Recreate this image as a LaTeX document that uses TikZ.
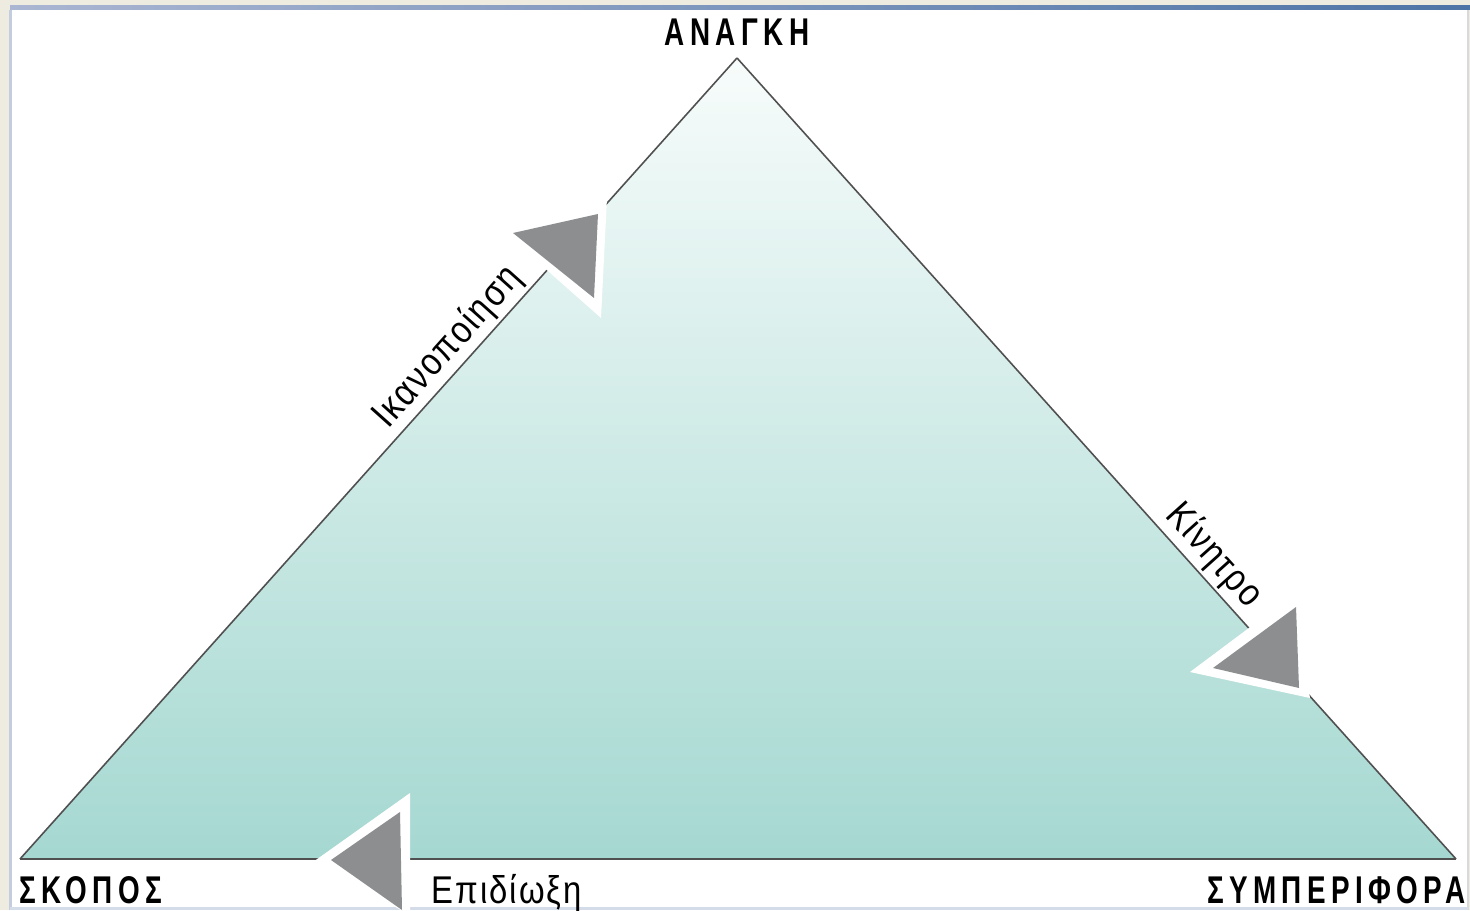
\documentclass[tikz,border=0pt]{standalone}
\usepackage{fontspec}
\setmainfont{Liberation Sans}
\newfontfamily\capsfont[FakeStretch=0.72,LetterSpace=14]{Liberation Sans}
\newfontfamily\edgefont[FakeStretch=0.85,LetterSpace=5]{Liberation Sans}

\definecolor{pagebg}{HTML}{EEEBE0}
\definecolor{framebl}{HTML}{4D74A6}
\definecolor{framelt}{HTML}{AAB6D2}
\definecolor{tritop}{HTML}{F7FCFB}
\definecolor{tribot}{HTML}{A5D8D1}
\definecolor{arrgray}{HTML}{8D8E90}
\definecolor{edgegray}{HTML}{505050}

\begin{document}
\begin{tikzpicture}
  [x=0.02cm,y=0.02cm,
   vlabel/.style={font=\capsfont\bfseries\fontsize{22}{24}\selectfont,inner sep=0pt},
   elabel/.style={font=\edgefont\fontsize{22}{24}\selectfont,inner sep=2pt},
   edge/.style={draw=edgegray,line width=0.9pt},
   arrhead/.style={fill=arrgray},
   arrhalo/.style={fill=white}]
  \useasboundingbox (0,0) rectangle (1470,910);

  % page and frame
  \fill[pagebg] (0,0) rectangle (1470,910);
  \fill[white] (10,0) rectangle (1468,900);
  \shade[left color=framelt,right color=framebl] (10,900) rectangle (1470,904);
  \fill[framelt!70!white] (9,0) rectangle (12,900);
  \fill[black!15] (1467,0) rectangle (1469,900);
  \fill[framelt!50!white] (10,0) rectangle (1468,3);

  \coordinate (ang) at (737,852);
  \coordinate (skp) at (20,51);
  \coordinate (sym) at (1456,51);

  \shade[top color=tritop,bottom color=tribot] (skp) -- (ang) -- (sym) -- cycle;
  \foreach \from/\to in {skp/ang, ang/sym, sym/skp}
    \draw[edge] (\from) -- (\to);

  % arrowheads
  \fill[arrhalo] (505,677) -- (607,712) -- (601,592) -- cycle;
  \fill[arrhead] (513,677) -- (598,696) -- (594,612) -- cycle;
  \fill[arrhalo] (1190,238) -- (1293,315) -- (1310,212) -- cycle;
  \fill[arrhead] (1213,242) -- (1296,303) -- (1299,222) -- cycle;
  \fill[arrhalo] (313,48) -- (410,117) -- (410,-5) -- cycle;
  \fill[arrhead] (331,50) -- (400,98) -- (402,0) -- cycle;

  \node[vlabel,anchor=base] (anagki) at (737,864) {ΑΝΑΓΚΗ};
  \node[vlabel,anchor=base west] (skopos) at (19,7) {ΣΚΟΠΟΣ};
  \node[vlabel,anchor=base east] (symper) at (1466,7) {ΣΥΜΠΕΡΙΦΟΡΑ};
  \node[elabel,anchor=base west] (epid) at (428,7) {Επιδίωξη};
  \path (skp) -- (ang) node[elabel,pos=0.62,sloped,above] (ikan) {Ικανοποίηση};
  \path (ang) -- (sym) node[elabel,pos=0.64,sloped,above] (kin) {Κίνητρο};
\end{tikzpicture}
\end{document}
